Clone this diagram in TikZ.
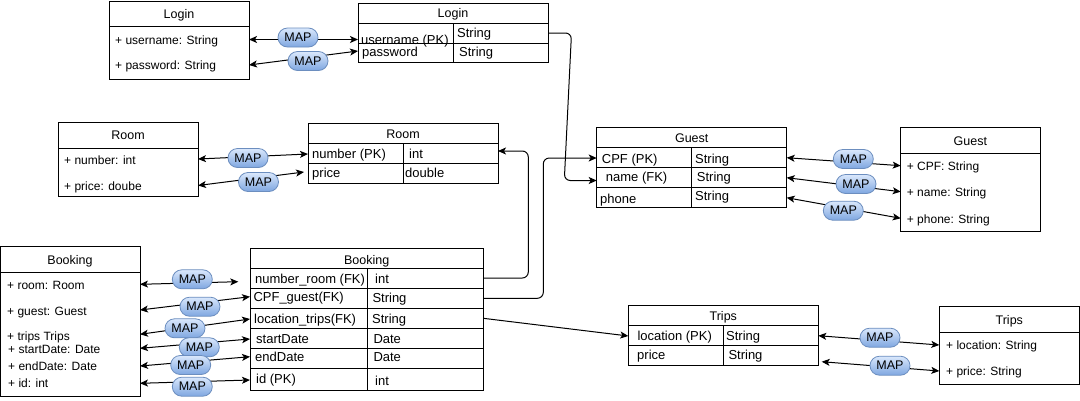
\documentclass[tikz,border=0pt]{standalone}
\usepackage{fontspec}
\setmainfont{Liberation Sans}
\usetikzlibrary{arrows.meta}
\definecolor{mapfill}{HTML}{DAE8FC}
\definecolor{mapshade}{HTML}{7EA6E0}
\definecolor{mapline}{HTML}{6C8EBF}
\begin{document}
\begin{tikzpicture}[x=1pt,y=-1pt,
  box/.style={draw, line width=1pt, anchor=north west, inner sep=0pt, outer sep=0pt},
  sep/.style={line width=1pt},
  ttl/.style={inner sep=0pt, text height=8pt, text depth=0pt, font=\fontsize{12.5}{15}\selectfont},
  attr/.style={anchor=west, inner sep=0pt, text height=8pt, text depth=0pt, font=\fontsize{12}{14}\selectfont},
  cell/.style={anchor=west, inner sep=0pt, text height=8pt, text depth=0pt, font=\fontsize{13}{15}\selectfont},
  map/.style={draw=mapline, line width=0.8pt, rounded corners=9.5pt, top color=mapfill, bottom color=mapshade,
    minimum width=40pt, minimum height=19pt, inner sep=0pt, text height=8pt, text depth=0pt,
    font=\fontsize{12.5}{15}\selectfont},
  tip/.tip={Stealth[length=8pt,width=7pt,inset=2pt]},
  link/.style={line width=1pt, tip-tip},
  fk/.style={line width=1pt, -tip, rounded corners=6pt}
]
\fill[white] (0,0) rectangle (1080,400);
\useasboundingbox (0,0) rectangle (1080,400);

% ---------- Login ----------
\node[box, minimum width=140pt, minimum height=78pt] (lc) at (109,1) {};
\draw[sep] (109,26) -- (249,26);
\node[ttl] (lcT) at (179,14) {Login};
\node[attr] (lcA1) at (115,40) {+ username: String};
\node[attr] (lcA2) at (115,65) {+ password: String};

\node[box, minimum width=190pt, minimum height=59pt] (lt) at (358,3) {};
\draw[sep] (358,23) -- (548,23);
\draw[sep] (358,43) -- (548,43);
\draw[sep] (453,23) -- (453,62);
\node[ttl] (ltT) at (453,13.5) {Login};
\node[cell] (ltR1a) at (361,40) {username (PK)};
\node[cell] (ltR1b) at (457,33.5) {String};
\node[cell] (ltR2a) at (362,52) {password};
\node[cell] (ltR2b) at (459,52) {String};

% ---------- Room ----------
\node[box, minimum width=140pt, minimum height=74pt] (rc) at (58,122) {};
\draw[sep] (58,148) -- (198,148);
\node[ttl] (rcT) at (128,135) {Room};
\node[attr] (rcA1) at (64,160) {+ number: int};
\node[attr] (rcA2) at (64,186.5) {+ price: doube};

\node[box, minimum width=190pt, minimum height=60pt] (rt) at (308,123) {};
\draw[sep] (308,143) -- (498,143);
\draw[sep] (308,163) -- (498,163);
\draw[sep] (403,143) -- (403,183);
\node[ttl] (rtT) at (403,134) {Room};
\node[cell] (rtR1a) at (312,154.5) {number (PK)};
\node[cell] (rtR1b) at (409,154.5) {int};
\node[cell] (rtR2a) at (312,173) {price};
\node[cell] (rtR2b) at (405,173) {double};

% ---------- Guest ----------
\node[box, minimum width=190pt, minimum height=80pt] (gt) at (596.7,127.3) {};
\draw[sep] (596.7,147.3) -- (786.7,147.3);
\draw[sep] (596.7,167.3) -- (786.7,167.3);
\draw[sep] (596.7,187.3) -- (786.7,187.3);
\draw[sep] (691.7,147.3) -- (691.7,207.3);
\node[ttl] (gtT) at (691.7,138.3) {Guest};
\node[cell] (gtR1a) at (601.7,159) {CPF (PK)};
\node[cell] (gtR1b) at (695,159) {String};
\node[cell] (gtR2a) at (605.7,177.3) {name (FK)};
\node[cell] (gtR2b) at (696.7,177) {String};
\node[cell] (gtR3a) at (600,199.3) {phone};
\node[cell] (gtR3b) at (695,196.7) {String};

\node[box, minimum width=139.3pt, minimum height=103.7pt] (gc) at (900.7,127.3) {};
\draw[sep] (900.7,153.3) -- (1040,153.3);
\node[ttl] (gcT) at (970.3,141.7) {Guest};
\node[attr] (gcA1) at (906.7,166.7) {+ CPF: String};
\node[attr] (gcA2) at (906.7,192.7) {+ name: String};
\node[attr] (gcA3) at (906.7,219) {+ phone: String};

% ---------- Booking ----------
\node[box, minimum width=139.5pt, minimum height=150pt] (bc) at (0.5,246) {};
\draw[sep] (0.5,272.3) -- (140,272.3);
\node[ttl] (bcT) at (70,260.7) {Booking};
\node[attr] (bcA1) at (7,285) {+ room: Room};
\node[attr] (bcA2) at (7,311.7) {+ guest: Guest};
\node[attr] (bcA3) at (7,336) {+ trips Trips};
\node[attr] (bcA4) at (8,349.3) {+ startDate: Date};
\node[attr] (bcA5) at (8,366.7) {+ endDate: Date};
\node[attr] (bcA6) at (8,383.3) {+ id: int};

\node[box, minimum width=233.3pt, minimum height=141.7pt] (bt) at (250,248.3) {};
\foreach \yy in {268.3,288.3,308.3,328.3,348.3,368.3}
  \draw[sep] (250,\yy) -- (483.3,\yy);
\draw[sep] (367.7,268.3) -- (367.7,390);
\node[ttl] (btT) at (366.7,260) {Booking};
\node[cell] (btR1a) at (255,279.3) {number\_room (FK)};
\node[cell] (btR1b) at (375,279.3) {int};
\node[cell] (btR2a) at (253.3,297.7) {CPF\_guest(FK)};
\node[cell] (btR2b) at (372.3,298) {String};
\node[cell] (btR3a) at (254,319.3) {location\_trips(FK)};
\node[cell] (btR3b) at (372,319.5) {String};
\node[cell] (btR4a) at (256,339.3) {startDate};
\node[cell] (btR4b) at (373.3,339.3) {Date};
\node[cell] (btR5a) at (255,357.7) {endDate};
\node[cell] (btR5b) at (373.3,357.7) {Date};
\node[cell] (btR6a) at (256,379.3) {id (PK)};
\node[cell] (btR6b) at (375,381.7) {int};

% ---------- Trips ----------
\node[box, minimum width=190pt, minimum height=59.3pt] (tt) at (628.3,305.7) {};
\draw[sep] (628.3,325.7) -- (818.3,325.7);
\draw[sep] (628.3,345.7) -- (818.3,345.7);
\draw[sep] (723.3,325.7) -- (723.3,365);
\node[ttl] (ttT) at (723.3,316.7) {Trips};
\node[cell] (ttR1a) at (637.3,336.7) {location (PK)};
\node[cell] (ttR1b) at (726,336.7) {String};
\node[cell] (ttR2a) at (637,355) {price};
\node[cell] (ttR2b) at (728.3,355) {String};

\node[box, minimum width=140pt, minimum height=77.3pt] (tc) at (939.3,306.7) {};
\draw[sep] (939.3,332.3) -- (1079.3,332.3);
\node[ttl] (tcT) at (1009.3,320.7) {Trips};
\node[attr] (tcA1) at (946,345.7) {+ location: String};
\node[attr] (tcA2) at (946,371.7) {+ price: String};

% ---------- connector end points ----------
\coordinate (l1a) at (249,39.5);   \coordinate (l1b) at (358,39.5);
\coordinate (l2a) at (249,65);     \coordinate (l2b) at (358,51);
\coordinate (r1a) at (198,159);    \coordinate (r1b) at (308,154);
\coordinate (r2a) at (198,185.5);  \coordinate (r2b) at (304,172);
\coordinate (g1a) at (786.7,157.7);\coordinate (g1b) at (900.7,165.7);
\coordinate (g2a) at (786.7,177.7);\coordinate (g2b) at (900.7,191.7);
\coordinate (g3a) at (786.7,197.7);\coordinate (g3b) at (900.7,218.3);
\coordinate (t1a) at (818.3,335.7);\coordinate (t1b) at (939.3,345);
\coordinate (t2a) at (821.7,361.7);\coordinate (t2b) at (939.3,371);
\coordinate (b1a) at (140,284.3);  \coordinate (b1b) at (238.3,281.7);
\coordinate (b2a) at (140,310);    \coordinate (b2b) at (250,296.7);
\coordinate (b3a) at (140,334.3);  \coordinate (b3b) at (250,319);
\coordinate (b4a) at (140,348.3);  \coordinate (b4b) at (250,339);
\coordinate (b5a) at (140,366);    \coordinate (b5b) at (250,356.7);
\coordinate (b6a) at (140,383.3);  \coordinate (b6b) at (250,380);

% foreign keys
\coordinate (fkLogin) at (548,33);     \coordinate (fkGuestName) at (596.7,180.5);
\coordinate (fkRoom) at (483.3,278);   \coordinate (pkRoom) at (498,151);
\coordinate (fkGuest) at (483.3,298.3);\coordinate (pkGuest) at (596.7,158);
\coordinate (fkTrips) at (483.3,318.3);\coordinate (pkTrips) at (628.3,336);

\draw[fk] (fkLogin) -- (571.5,33) -- (564.3,180.5) -- (fkGuestName);
\draw[fk] (fkRoom) -- (528.3,278) -- (528.3,151) -- (pkRoom);
\draw[fk] (fkGuest) -- (543.3,298.3) -- (543.3,158) -- (pkGuest);
\draw[fk] (fkTrips) -- (pkTrips);

% mapping links
\foreach \c in {l1,l2,r1,r2,g1,g2,g3,t1,t2,b1,b2,b3,b4,b5,b6}
  \draw[link] (\c a) -- (\c b);

\node[map] (mL1) at (298,37.5) {MAP};
\node[map] (mL2) at (308,61) {MAP};
\node[map] (mR1) at (248,158) {MAP};
\node[map] (mR2) at (258.5,182) {MAP};
\node[map] (mG1) at (853.3,159) {MAP};
\node[map] (mG2) at (856,184) {MAP};
\node[map] (mG3) at (843.3,210.7) {MAP};
\node[map] (mT1) at (880,337.7) {MAP};
\node[map] (mT2) at (890,365.7) {MAP};
\node[map] (mB1) at (192.3,279.3) {MAP};
\node[map] (mB2) at (200,306.7) {MAP};
\node[map] (mB3) at (185,328.3) {MAP};
\node[map] (mB4) at (199.3,347.3) {MAP};
\node[map] (mB5) at (190.7,365) {MAP};
\node[map] (mB6) at (192.3,386.7) {MAP};
\end{tikzpicture}
\end{document}
